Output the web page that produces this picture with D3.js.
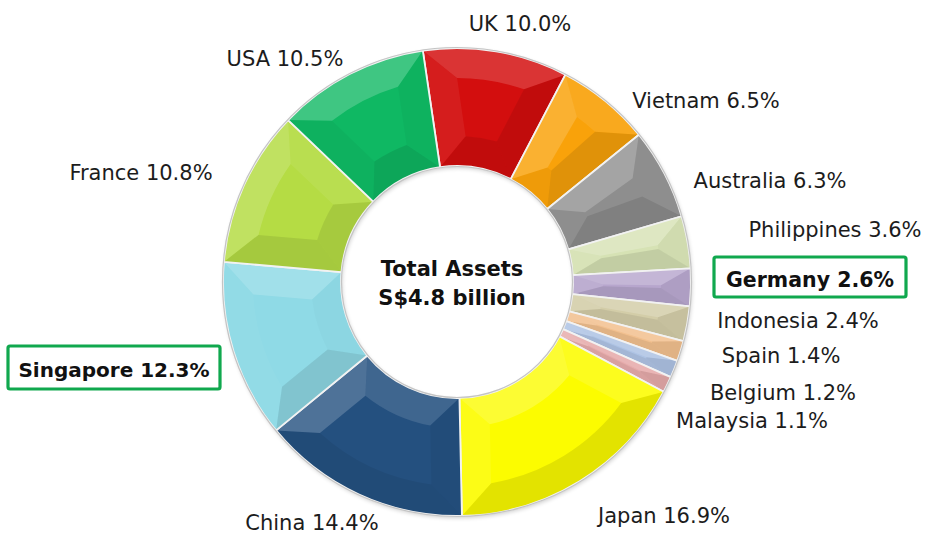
<!DOCTYPE html>
<html>
<head>
<meta charset="utf-8">
<script src="https://cdn.jsdelivr.net/npm/d3@7"></script>
<style>
  html, body { margin: 0; padding: 0; background: #ffffff; }
  svg { display: block; }
  .lbl { font-family: "DejaVu Sans", sans-serif; font-size: 21px; fill: #1c1c1c; font-weight: normal; }
  .bold { font-family: "DejaVu Sans", sans-serif; font-weight: bold; fill: #111; }
</style>
</head>
<body>
<svg id="chart" width="928" height="535"></svg>
<script>
// ---- data ----
const countries = ["UK", "Vietnam", "Australia", "Philippines", "Germany", "Indonesia", "Spain",
                   "Belgium", "Malaysia", "Japan", "China", "Singapore", "France", "USA"];
const shares = [10.0, 6.5, 6.3, 3.6, 2.6, 2.4, 1.4, 1.2, 1.1, 16.9, 14.4, 12.3, 10.8, 10.5];
const highlighted = ["Germany", "Singapore"];
const centerTitle = ["Total Assets", "S$4.8 billion"];

// ---- styles / layout ----
const colors = ["#d30e0e", "#f9a20a", "#8e8e8e", "#d6e2b4", "#b7a6cd", "#d3cda8", "#f2c08f",
                "#aec3e4", "#e6abab", "#fcfc00", "#24507f", "#8fdae6", "#b5dc44", "#0fb863"];
// label anchor (center x, baseline y) - manual placement as in the original
const labelPos = [[520, 31], [706, 108], [770, 188], [835, 237], [810, 287], [798, 328], [781, 363],
                  [783, 400], [752, 428], [664, 523], [312, 530], [114, 377], [141, 180], [285, 66]];
const boxSize = { Germany: [192, 40], Singapore: [212, 43] };

const svg = d3.select("#chart");
const cx = 457, cy = 282, rOuter = 234, rInner = 116, bevel = 30;
const startA = -8.4 * Math.PI / 180;

const data = countries.map((c, i) => ({ name: c, value: shares[i], color: colors[i], pos: labelPos[i] }));

const pie = d3.pie().value(d => d.value).sort(null)
  .startAngle(startA).endAngle(startA + 2 * Math.PI);
const arcs = pie(data);

const arc = d3.arc().innerRadius(rInner).outerRadius(rOuter);

const g = svg.append("g").attr("transform", `translate(${cx},${cy})`);

// soft shadow
const defs = svg.append("defs");
const f = defs.append("filter").attr("id", "sh").attr("x", "-10%").attr("y", "-10%").attr("width", "120%").attr("height", "120%");
f.append("feGaussianBlur").attr("in", "SourceAlpha").attr("stdDeviation", 2);
f.append("feOffset").attr("dx", 1).attr("dy", 2).attr("result", "b");
f.append("feComponentTransfer").append("feFuncA").attr("type", "linear").attr("slope", 0.2);
const fm = f.append("feMerge");
fm.append("feMergeNode");
fm.append("feMergeNode").attr("in", "SourceGraphic");

g.append("path")
  .attr("d", d3.arc().innerRadius(rInner).outerRadius(rOuter).startAngle(0).endAngle(2 * Math.PI)())
  .attr("fill", "#ccc").attr("filter", "url(#sh)");

const P = (r, a) => [r * Math.sin(a), -r * Math.cos(a)];
const fmt = p => p[0].toFixed(2) + "," + p[1].toFixed(2);
const light = (() => { const x = -0.45, y = -0.9, n = Math.hypot(x, y); return [x / n, y / n]; })();

function shade(sel, n) {
  const s = n[0] * light[0] + n[1] * light[1];
  if (s >= 0) sel.attr("fill", "#fff").attr("fill-opacity", 0.2 * s);
  else sel.attr("fill", "#000").attr("fill-opacity", 0.1 * -s);
}

const slices = g.selectAll("g.slice").data(arcs).join("g").attr("class", "slice");

slices.each(function (d) {
  const sg = d3.select(this);
  const a0 = d.startAngle, a1 = d.endAngle, am = (a0 + a1) / 2;
  const half = (a1 - a0) / 2;
  const ro = rOuter, ri = rInner;
  const bw = Math.min(bevel, (ro - ri) / 2 - 1);
  const ro2 = ro - bw, ri2 = ri + bw;
  const dO = Math.min(bw / ro2, half * 0.92), dI = Math.min(bw / ri2, half * 0.92);
  const large = (a1 - a0) > Math.PI ? 1 : 0;

  sg.append("path").attr("d", arc(d)).attr("fill", d.data.color);

  const outer = `M${fmt(P(ro, a0))}A${ro},${ro} 0 ${large} 1 ${fmt(P(ro, a1))}L${fmt(P(ro2, a1 - dO))}A${ro2},${ro2} 0 ${large} 0 ${fmt(P(ro2, a0 + dO))}Z`;
  shade(sg.append("path").attr("d", outer), [Math.sin(am), -Math.cos(am)]);
  const inner = `M${fmt(P(ri, a0))}A${ri},${ri} 0 ${large} 1 ${fmt(P(ri, a1))}L${fmt(P(ri2, a1 - dI))}A${ri2},${ri2} 0 ${large} 0 ${fmt(P(ri2, a0 + dI))}Z`;
  shade(sg.append("path").attr("d", inner), [-Math.sin(am), Math.cos(am)]);
  const s0 = `M${fmt(P(ro, a0))}L${fmt(P(ro2, a0 + dO))}L${fmt(P(ri2, a0 + dI))}L${fmt(P(ri, a0))}Z`;
  shade(sg.append("path").attr("d", s0), [-Math.cos(a0), -Math.sin(a0)]);
  const s1 = `M${fmt(P(ro, a1))}L${fmt(P(ro2, a1 - dO))}L${fmt(P(ri2, a1 - dI))}L${fmt(P(ri, a1))}Z`;
  shade(sg.append("path").attr("d", s1), [Math.cos(a1), Math.sin(a1)]);

  sg.append("path").attr("d", arc(d)).attr("fill", "none")
    .attr("stroke", "#f2f2f2").attr("stroke-width", 1.8).attr("stroke-linejoin", "round");
});

// rims
g.append("circle").attr("r", rOuter + 0.5).attr("fill", "none").attr("stroke", "#c4c4c4").attr("stroke-width", 1.2);
g.append("circle").attr("r", rInner - 0.5).attr("fill", "none").attr("stroke", "#c4c4c4").attr("stroke-width", 1.2);

// labels
const labels = svg.append("g");
data.forEach(d => {
  const txt = `${d.name} ${d.value.toFixed(1)}%`;
  if (highlighted.includes(d.name)) {
    const [w, h] = boxSize[d.name];
    labels.append("rect")
      .attr("x", d.pos[0] - w / 2).attr("y", d.pos[1] - h + 10 + (d.name === "Singapore" ? 2 : 0))
      .attr("width", w).attr("height", h).attr("rx", 2)
      .attr("fill", "#fff").attr("stroke", "#10a84e").attr("stroke-width", 3.2);
    labels.append("text").attr("class", "bold")
      .attr("x", d.pos[0]).attr("y", d.pos[1]).attr("text-anchor", "middle")
      .style("font-size", d.name === "Singapore" ? "20px" : "20.5px")
      .text(txt);
  } else {
    labels.append("text").attr("class", "lbl")
      .attr("x", d.pos[0]).attr("y", d.pos[1]).attr("text-anchor", "middle")
      .text(txt);
  }
});

// center title
svg.append("text").attr("class", "bold").attr("x", 452).attr("y", 276)
  .attr("text-anchor", "middle").style("font-size", "21px").text(centerTitle[0]);
svg.append("text").attr("class", "bold").attr("x", 452).attr("y", 305)
  .attr("text-anchor", "middle").style("font-size", "21px").text(centerTitle[1]);
</script>
</body>
</html>
